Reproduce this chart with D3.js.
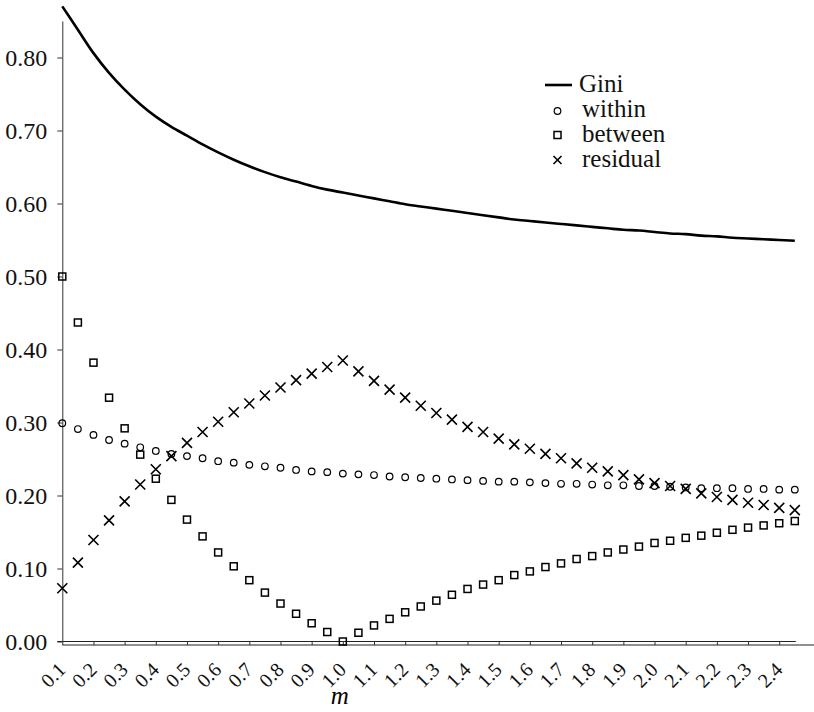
<!DOCTYPE html>
<html>
<head>
<meta charset="utf-8">
<script src="https://cdn.jsdelivr.net/npm/d3@7"></script>
<style>
  body { margin: 0; background: #fff; }
  svg { display: block; }
</style>
</head>
<body>
<div id="chart"></div>
<script>
// m values (x positions of the points)
var mValues = [0.10, 0.15, 0.20, 0.25, 0.30, 0.35, 0.40, 0.45, 0.50, 0.55,
  0.60, 0.65, 0.70, 0.75, 0.80, 0.85, 0.90, 0.95, 1.00, 1.05,
  1.10, 1.15, 1.20, 1.25, 1.30, 1.35, 1.40, 1.45, 1.50, 1.55,
  1.60, 1.65, 1.70, 1.75, 1.80, 1.85, 1.90, 1.95, 2.00, 2.05,
  2.10, 2.15, 2.20, 2.25, 2.30, 2.35, 2.40, 2.45];

var gini = [0.870, 0.838, 0.806, 0.779, 0.756, 0.736, 0.719, 0.705, 0.693, 0.681,
  0.670, 0.660, 0.651, 0.643, 0.636, 0.630, 0.624, 0.619, 0.615, 0.611,
  0.607, 0.603, 0.599, 0.596, 0.593, 0.590, 0.587, 0.584, 0.581, 0.578,
  0.576, 0.574, 0.572, 0.570, 0.568, 0.566, 0.564, 0.563, 0.561, 0.559,
  0.558, 0.556, 0.555, 0.553, 0.552, 0.551, 0.550, 0.549];

var within = [0.299, 0.291, 0.283, 0.276, 0.271, 0.266, 0.261, 0.257, 0.254, 0.251,
  0.247, 0.245, 0.242, 0.240, 0.238, 0.235, 0.233, 0.232, 0.230, 0.229,
  0.228, 0.226, 0.225, 0.224, 0.223, 0.222, 0.221, 0.220, 0.219, 0.219,
  0.218, 0.217, 0.216, 0.216, 0.215, 0.214, 0.214, 0.213, 0.213, 0.212,
  0.211, 0.210, 0.210, 0.210, 0.209, 0.209, 0.208, 0.208];

var between = [0.500, 0.437, 0.382, 0.334, 0.292, 0.256, 0.223, 0.194, 0.167, 0.144,
  0.122, 0.103, 0.084, 0.067, 0.052, 0.038, 0.025, 0.013, 0.000, 0.012,
  0.022, 0.031, 0.040, 0.048, 0.056, 0.064, 0.072, 0.078, 0.084, 0.091,
  0.096, 0.102, 0.107, 0.113, 0.117, 0.122, 0.126, 0.130, 0.135, 0.138,
  0.142, 0.145, 0.149, 0.153, 0.156, 0.159, 0.162, 0.165];

var residual = [0.073, 0.108, 0.139, 0.166, 0.192, 0.215, 0.236, 0.254, 0.272, 0.287,
  0.301, 0.314, 0.326, 0.337, 0.348, 0.358, 0.367, 0.376, 0.385, 0.370,
  0.357, 0.345, 0.334, 0.323, 0.313, 0.304, 0.294, 0.287, 0.278, 0.270,
  0.264, 0.257, 0.251, 0.244, 0.238, 0.233, 0.228, 0.222, 0.217, 0.213,
  0.209, 0.203, 0.198, 0.194, 0.190, 0.187, 0.183, 0.180];

var xTicks = [0.1, 0.2, 0.3, 0.4, 0.5, 0.6, 0.7, 0.8, 0.9, 1.0, 1.1, 1.2,
  1.3, 1.4, 1.5, 1.6, 1.7, 1.8, 1.9, 2.0, 2.1, 2.2, 2.3, 2.4];
var yTicks = [0.00, 0.10, 0.20, 0.30, 0.40, 0.50, 0.60, 0.70, 0.80];

var legendItems = ["Gini", "within", "between", "residual"];

var width = 814, height = 712;
var serif = "'Liberation Serif', 'Times New Roman', serif";

var x = d3.scaleLinear().domain([0.1, 2.45]).range([62.3, 794.8]);
var y = d3.scaleLinear().domain([0, 0.85]).range([641.5, 21]);

var svg = d3.select("#chart").append("svg")
  .attr("width", width)
  .attr("height", height);

// y axis
var yAxis = svg.append("g")
  .attr("transform", "translate(" + x(0.1) + ",0)")
  .call(d3.axisLeft(y).tickValues(yTicks).tickFormat(d3.format(".2f")).tickSize(5).tickSizeOuter(0).tickPadding(10));
yAxis.select(".domain").attr("stroke", "#333");
yAxis.selectAll(".tick line").attr("stroke", "#333");
yAxis.selectAll(".tick text")
  .style("font-family", serif)
  .style("font-size", "24px")
  .attr("fill", "#111");

// the zero line across the plot
svg.append("line")
  .attr("x1", x(0.1) - 5).attr("x2", x(2.45) + 1)
  .attr("y1", y(0)).attr("y2", y(0))
  .attr("stroke", "#222").attr("stroke-width", 1);

// x axis, a little below the zero line
var xAxisY = y(0) + 3.5;
var xAxis = svg.append("g")
  .attr("transform", "translate(0," + xAxisY + ")")
  .call(d3.axisBottom(x).tickValues(xTicks).tickFormat(d3.format(".1f")).tickSize(0).tickSizeOuter(0).tickPadding(0));
xAxis.select(".domain").remove();
xAxis.append("line")
  .attr("x1", x(0.1)).attr("x2", width)
  .attr("stroke", "#222").attr("stroke-width", 1.2);
xAxis.selectAll(".tick line")
  .attr("y1", -4).attr("y2", 0)
  .attr("stroke", "#333");
xAxis.selectAll(".tick text")
  .style("font-family", serif)
  .style("font-size", "20px")
  .attr("fill", "#111")
  .attr("text-anchor", "end")
  .attr("dy", null)
  .attr("y", null)
  .attr("transform", "translate(4,26) rotate(-45)");

// x axis title
svg.append("text")
  .attr("x", x(1.0) - 3)
  .attr("y", 704)
  .attr("text-anchor", "middle")
  .style("font-family", serif)
  .style("font-style", "italic")
  .style("font-size", "25px")
  .text("m");

// Gini curve
var line = d3.line()
  .x(function (d, i) { return x(mValues[i]); })
  .y(function (d) { return y(d); })
  .curve(d3.curveMonotoneX);

svg.append("path")
  .datum(gini)
  .attr("d", line)
  .attr("fill", "none")
  .attr("stroke", "#000")
  .attr("stroke-width", 2.6);

// within: circles
svg.selectAll(".within")
  .data(within)
  .enter().append("circle")
  .attr("class", "within")
  .attr("cx", function (d, i) { return x(mValues[i]); })
  .attr("cy", function (d) { return y(d); })
  .attr("r", 3.3)
  .attr("fill", "none")
  .attr("stroke", "#000")
  .attr("stroke-width", 1.2);

// between: squares
var sq = 7;
svg.selectAll(".between")
  .data(between)
  .enter().append("rect")
  .attr("class", "between")
  .attr("x", function (d, i) { return x(mValues[i]) - sq / 2; })
  .attr("y", function (d) { return y(d) - sq / 2; })
  .attr("width", sq)
  .attr("height", sq)
  .attr("fill", "none")
  .attr("stroke", "#000")
  .attr("stroke-width", 1.5);

// residual: crosses
function crossPath(cx, cy, s) {
  return "M" + (cx - s) + "," + (cy - s) + "L" + (cx + s) + "," + (cy + s)
    + "M" + (cx - s) + "," + (cy + s) + "L" + (cx + s) + "," + (cy - s);
}
svg.selectAll(".residual")
  .data(residual)
  .enter().append("path")
  .attr("class", "residual")
  .attr("d", function (d, i) { return crossPath(x(mValues[i]), y(d), 5); })
  .attr("fill", "none")
  .attr("stroke", "#000")
  .attr("stroke-width", 1.6);

// legend
var legend = svg.append("g").attr("transform", "translate(545,92)");
legendItems.forEach(function (name, i) {
  var g = legend.append("g").attr("transform", "translate(0," + (i * 25) + ")");
  var cy = -7;
  if (i === 0) {
    g.append("line").attr("x1", 0).attr("x2", 27).attr("y1", cy).attr("y2", cy)
      .attr("stroke", "#000").attr("stroke-width", 2.6);
  } else if (i === 1) {
    g.append("circle").attr("cx", 12.5).attr("cy", cy + 1).attr("r", 3.3)
      .attr("fill", "none").attr("stroke", "#000").attr("stroke-width", 1.2);
  } else if (i === 2) {
    g.append("rect").attr("x", 12.5 - sq / 2).attr("y", cy - sq / 2).attr("width", sq).attr("height", sq)
      .attr("fill", "none").attr("stroke", "#000").attr("stroke-width", 1.5);
  } else {
    g.append("path").attr("d", crossPath(12.5, cy, 4))
      .attr("fill", "none").attr("stroke", "#000").attr("stroke-width", 1.6);
  }
  g.append("text")
    .attr("x", i === 0 ? 34 : 37)
    .attr("y", 0)
    .style("font-family", serif)
    .style("font-size", "25px")
    .attr("fill", "#111")
    .text(name);
});
</script>
</body>
</html>
